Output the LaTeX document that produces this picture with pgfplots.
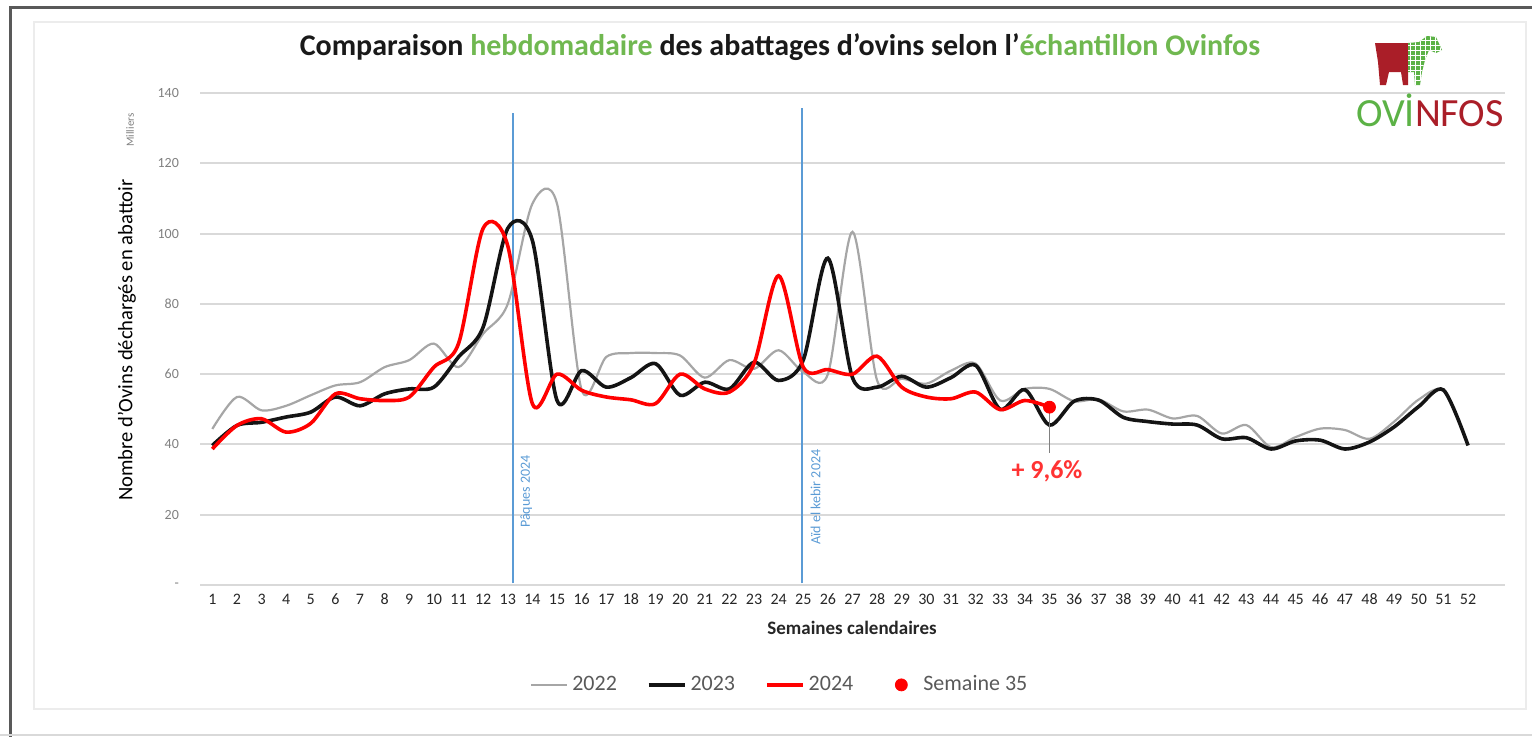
\documentclass[border=0pt]{standalone}
\usepackage{pgfplots}
\usepackage{pgfplotstable}
\pgfplotsset{compat=1.18}
\usepackage{fontspec}
\setmainfont{Carlito}

\definecolor{titlegreen}{RGB}{112,184,80}
\definecolor{gridgray}{RGB}{217,217,217}
\definecolor{c22}{RGB}{166,166,166}
\definecolor{c23}{RGB}{20,20,20}
\definecolor{c24}{RGB}{255,0,0}
\definecolor{evblue}{RGB}{91,155,213}
\definecolor{logogreen}{RGB}{92,178,70}
\definecolor{logored}{RGB}{170,30,40}

\pgfplotsset{
  longline/.style={legend image code/.code={\draw[##1] (0pt,0pt) -- (18pt,0pt);}},
  dotentry/.style={legend image code/.code={\path[draw=none, fill=none] (0pt,0pt) -- (18pt,0pt); \fill[c24] (9pt,0pt) circle (3pt);}},
}

% 2022 and 2023, thousands of head per week
\pgfplotstableread{
week y22 y23
1 44.4 39.7
2 53.5 45.4
3 49.7 46.3
4 51.0 47.8
5 54.0 49.2
6 56.8 53.5
7 57.7 51.0
8 62.0 54.4
9 64.0 55.8
10 68.7 56.3
11 62.0 64.9
12 71.5 73.4
13 80.0 101.5
14 108.5 98.0
15 108.5 52.5
16 55.5 61.0
17 64.9 56.3
18 66.0 59.0
19 66.0 63.0
20 65.3 54.0
21 59.0 57.7
22 64.0 55.8
23 61.5 63.4
24 66.8 58.2
25 60.6 64.0
26 60.0 93.0
27 100.5 59.0
28 58.2 56.3
29 58.7 59.4
30 57.3 56.3
31 61.0 59.0
32 63.0 62.5
33 52.5 50.0
34 55.8 55.6
35 55.8 45.5
36 52.3 52.3
37 52.8 52.6
38 49.4 47.7
39 49.9 46.5
40 47.4 45.8
41 48.1 45.5
42 43.1 41.6
43 45.5 41.9
44 39.2 38.7
45 42.1 41.0
46 44.5 41.2
47 44.1 38.7
48 41.6 40.7
49 46.5 45.0
50 52.8 50.8
51 55.2 55.5
52 40.0 39.7
}\dataA

% 2024
\pgfplotstableread{
week y24
1 38.7
2 45.4
3 47.3
4 43.5
5 46.0
6 54.4
7 53.0
8 52.5
9 53.5
10 62.0
11 68.7
12 101.5
13 96.5
14 51.6
15 60.0
16 55.4
17 53.5
18 52.7
19 51.6
20 60.0
21 55.8
22 54.9
23 63.0
24 88.0
25 62.0
26 61.3
27 60.0
28 65.1
29 56.3
30 53.5
31 53.0
32 54.9
33 49.9
34 52.5
35 50.6
}\dataB

\begin{document}
\begin{tikzpicture}
\path[use as bounding box] (0,0) rectangle (766pt,368pt);
\begin{scope}[x=0.5pt,y=-0.5pt,yshift=368pt]
  \draw[gray!70!black, line width=1.5pt] (10,737) -- (10,7) -- (1534,7);
  \draw[gray!30, line width=0.6pt] (0,735) -- (1532,735);
  \draw[gray!15, line width=1.2pt] (34,22) rectangle (1526,709);
\end{scope}

\begin{axis}[
  at={(100pt,75.5pt)}, anchor=south west, scale only axis,
  width=652.5pt, height=246pt,
  xmin=0.5, xmax=53.5, ymin=0, ymax=140,
  xtick={1,...,52}, ytick={0,20,...,140},
  yticklabels={-,20,40,60,80,100,120,140},
  axis line style={draw=none}, major tick length=0pt,
  ymajorgrids, grid style={gridgray, line width=1pt},
  clip=false,
  /pgf/number format/assume math mode=true,
  xticklabel style={font=\fontsize{8}{9}\selectfont, text=black!85, text height=6pt, text depth=0pt},
  yticklabel style={font=\fontsize{7}{8}\selectfont, text=black!50, xshift=-7pt},
  legend columns=4,
  legend style={at={(0.445,-0.203)}, anchor=center, draw=none, fill=none,
    font=\fontsize{11}{13}\selectfont, text=black!65,
    /tikz/every even column/.append style={column sep=13pt}},
]
\addplot[evblue, line width=1pt, forget plot] coordinates {(13.2,0.5) (13.2,134.3)};
\addplot[evblue, line width=1pt, forget plot] coordinates {(24.96,0.5) (24.96,135.7)};
\node[rotate=90, text=evblue, font=\fontsize{7}{8}\selectfont] at (axis cs:13.75,26.6) {Pâques 2024};
\node[rotate=90, text=evblue, font=\fontsize{7}{8}\selectfont] at (axis cs:25.5,25) {Aïd el kebir 2024};

\addplot[c22, line width=1.1pt, smooth, longline] table[x=week, y=y22] {\dataA};
\addlegendentry{2022}
\addplot[c23, line width=1.8pt, smooth, longline] table[x=week, y=y23] {\dataA};
\addlegendentry{2023}
\addplot[c24, line width=1.8pt, smooth, longline] table[x=week, y=y24] {\dataB};
\addlegendentry{2024}
\addplot[gray, line width=0.6pt, forget plot] coordinates {(35,50) (35,37.7)};
\addplot[only marks, mark=*, mark size=3pt, c24, dotentry] coordinates {(35,50.6)};
\addlegendentry{Semaine 35}
\node[text=c24!80, font=\bfseries\fontsize{13}{15}\selectfont] at (axis cs:34.9,32.3) {+ 9,6\%};
\end{axis}

\begin{scope}[x=0.5pt,y=-0.5pt,yshift=368pt]
  \node[font=\bfseries\fontsize{15}{18}\selectfont, text=black!90] at (780,47)
    {Comparaison \textcolor{titlegreen}{hebdomadaire} des abattages d'ovins selon l'\textcolor{titlegreen}{échantillon Ovinfos}};
  \node[rotate=90, font=\fontsize{10.3}{12}\selectfont] at (127,340) {Nombre d'Ovins déchargés en abattoir};
  \node[rotate=90, font=\fontsize{5.5}{6}\selectfont, text=gray] at (130,130) {Milliers};
  \node[font=\bfseries\fontsize{9.5}{11}\selectfont, text=black!85] at (852,628) {Semaines calendaires};
  % logo
  \fill[logored] (1375,43) -- (1408,43) -- (1408,85) -- (1403,85) -- (1401,72) -- (1389,72) -- (1386,85) -- (1380,85) -- (1378,62) -- cycle;
  \begin{scope}
    \clip (1408,43) -- (1419,42) -- (1427,36) -- (1436,37) -- (1442,50) -- (1436,53) -- (1429,50) -- (1425,60) -- (1422,72) -- (1420,85) -- (1415,85) -- (1414,72) -- (1408,72) -- cycle;
    \fill[logogreen] (1405,30) rectangle (1445,90);
    \foreach \i in {1410,1415,...,1445} \draw[white, line width=0.4pt] (\i,30) -- (\i,90);
    \foreach \j in {35,40,...,90} \draw[white, line width=0.4pt] (1405,\j) -- (1445,\j);
  \end{scope}
  \node[font=\fontsize{20}{24}\selectfont] at (1430,110) {\textcolor{logogreen}{OVİ}\textcolor{logored}{NFOS}};
\end{scope}
\end{tikzpicture}
\end{document}
